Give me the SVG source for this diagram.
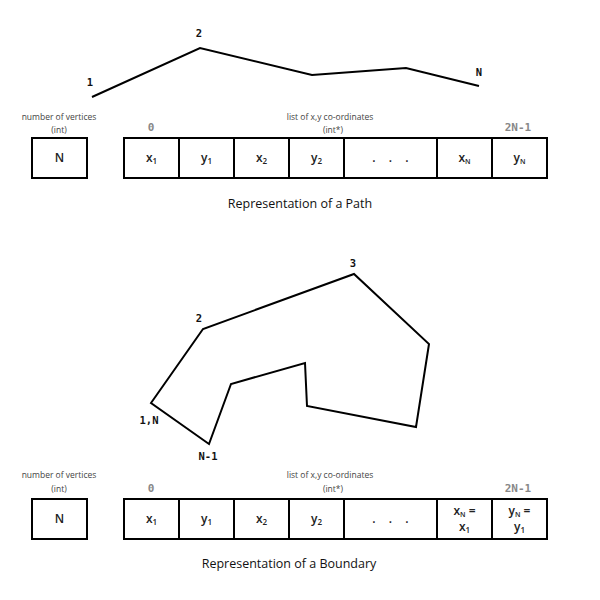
<svg xmlns="http://www.w3.org/2000/svg" width="600" height="600" viewBox="0 0 600 600">
<style>
.bg{fill:#fff}
.ln{fill:none;stroke:#000;stroke-width:2;stroke-linejoin:miter}
.box{fill:#fff;stroke:#000;stroke-width:2}
.small{font-family:"Open Sans","Liberation Sans",sans-serif;font-size:8.5px;fill:#444;text-anchor:middle}
.idx{font-family:"DejaVu Sans Mono","Liberation Mono",monospace;font-size:11px;fill:#888;font-weight:bold;text-anchor:middle}
.vl{font-family:"DejaVu Sans Mono","Liberation Mono",monospace;font-size:10.5px;font-weight:bold;fill:#111;text-anchor:middle}
.cell{font-family:"Open Sans","Liberation Sans",sans-serif;font-size:12px;font-weight:600;fill:#222;text-anchor:middle}
.cap{font-family:"Open Sans","Liberation Sans",sans-serif;font-size:12.5px;fill:#111;text-anchor:middle}
</style>
<rect class="bg" width="600" height="600"/>
<g id="connectors">
<polyline class="ln" points="92,97 200,48 312,75 406,68 479,86"/>
<polygon class="ln" points="151,403 203,329 354,274 429,344 416,427 307,406 305,363 231,384 209,444"/>
</g>
<g id="path-labels">
<text class="vl" x="90" y="86">1</text>
<text class="vl" x="199" y="37">2</text>
<text class="vl" x="479" y="76">N</text>
</g>
<g id="boundary-labels">
<text class="vl" x="353" y="267">3</text>
<text class="vl" x="199" y="322">2</text>
<text class="vl" x="149" y="424">1,N</text>
<text class="vl" x="208" y="460">N-1</text>
</g>
<g id="path-repr">
<text class="small" x="59" y="120">number of vertices</text>
<text class="small" x="59" y="133">(int)</text>
<text class="small" x="330" y="120">list of x,y co-ordinates</text>
<text class="small" x="333" y="133">(int*)</text>
<text class="idx" x="151" y="131">0</text>
<text class="idx" x="518" y="131">2N-1</text>
<rect class="box" x="32" y="138" width="55" height="40"/>
<text class="cell" x="59.5" y="162">N</text>
<rect class="box" x="124" y="138" width="423" height="40"/>
<path class="ln" d="M179,138V178M234,138V178M289,138V178M344,138V178M437,138V178M492,138V178"/>
<text class="cell" x="151.5" y="162">x<tspan font-size="8" dy="2">1</tspan></text>
<text class="cell" x="206.5" y="162">y<tspan font-size="8" dy="2">1</tspan></text>
<text class="cell" x="261.5" y="162">x<tspan font-size="8" dy="2">2</tspan></text>
<text class="cell" x="316.5" y="162">y<tspan font-size="8" dy="2">2</tspan></text>
<text class="cell" x="374" y="162">.</text>
<text class="cell" x="390.5" y="162">.</text>
<text class="cell" x="407" y="162">.</text>
<text class="cell" x="464.5" y="162">x<tspan font-size="7" dy="2">N</tspan></text>
<text class="cell" x="519.5" y="162">y<tspan font-size="7" dy="2">N</tspan></text>
<text class="cap" x="300" y="208">Representation of a Path</text>
</g>
<g id="boundary-repr">
<text class="small" x="59" y="478">number of vertices</text>
<text class="small" x="59" y="492">(int)</text>
<text class="small" x="330" y="478">list of x,y co-ordinates</text>
<text class="small" x="333" y="492">(int*)</text>
<text class="idx" x="151" y="492">0</text>
<text class="idx" x="518" y="492">2N-1</text>
<rect class="box" x="32" y="499" width="55" height="40"/>
<text class="cell" x="59.5" y="523">N</text>
<rect class="box" x="124" y="499" width="423" height="40"/>
<path class="ln" d="M179,499V539M234,499V539M289,499V539M344,499V539M437,499V539M492,499V539"/>
<text class="cell" x="151.5" y="523">x<tspan font-size="8" dy="2">1</tspan></text>
<text class="cell" x="206.5" y="523">y<tspan font-size="8" dy="2">1</tspan></text>
<text class="cell" x="261.5" y="523">x<tspan font-size="8" dy="2">2</tspan></text>
<text class="cell" x="316.5" y="523">y<tspan font-size="8" dy="2">2</tspan></text>
<text class="cell" x="374" y="523">.</text>
<text class="cell" x="390.5" y="523">.</text>
<text class="cell" x="407" y="523">.</text>
<text class="cell" x="464.5" y="515">x<tspan font-size="7" dy="2">N</tspan><tspan dy="-2"> =</tspan></text>
<text class="cell" x="464.5" y="531">x<tspan font-size="8" dy="2">1</tspan></text>
<text class="cell" x="519.5" y="515">y<tspan font-size="7" dy="2">N</tspan><tspan dy="-2"> =</tspan></text>
<text class="cell" x="519.5" y="531">y<tspan font-size="8" dy="2">1</tspan></text>
<text class="cap" x="289" y="568">Representation of a Boundary</text>
</g>
</svg>
